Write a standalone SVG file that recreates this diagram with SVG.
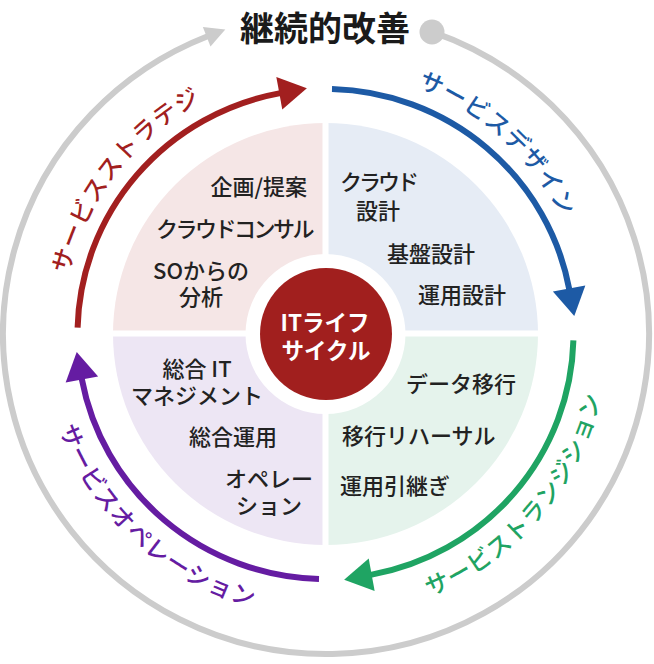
<svg xmlns="http://www.w3.org/2000/svg" width="654" height="664" viewBox="0 0 654 664">
  <style>
    text { font-family: "Noto Sans CJK JP", "Noto Sans", sans-serif; }
    .title { font-size: 34px; font-weight: 700; fill: #1a1a1a; }
    .item { font-size: 22px; font-weight: 500; fill: #222222; }
    .center { font-size: 22.5px; font-weight: 700; fill: #ffffff; }
    .lbl { font-size: 24px; font-weight: 500; letter-spacing: 1px; }
    .arc { fill: none; stroke-width: 6; }
  </style>
  <defs>
    <marker id="mRed" markerUnits="userSpaceOnUse" markerWidth="30" markerHeight="34" refX="1" refY="16.5" orient="auto" overflow="visible"><path d="M0,0 L28,16.5 L0,33 Z" fill="#a21f1f"/></marker>
    <marker id="mBlue" markerUnits="userSpaceOnUse" markerWidth="30" markerHeight="34" refX="1" refY="16.5" orient="auto" overflow="visible"><path d="M0,0 L28,16.5 L0,33 Z" fill="#1d5aa5"/></marker>
    <marker id="mGreen" markerUnits="userSpaceOnUse" markerWidth="30" markerHeight="34" refX="1" refY="16.5" orient="auto" overflow="visible"><path d="M0,0 L28,16.5 L0,33 Z" fill="#1fa463"/></marker>
    <marker id="mPurple" markerUnits="userSpaceOnUse" markerWidth="30" markerHeight="34" refX="1" refY="16.5" orient="auto" overflow="visible"><path d="M0,0 L28,16.5 L0,33 Z" fill="#651ca2"/></marker>
    <marker id="mGray" markerUnits="userSpaceOnUse" markerWidth="22" markerHeight="22" refX="1" refY="10.5" orient="auto" overflow="visible"><path d="M0,0 L20,10.5 L0,21 Z" fill="#cccccc"/></marker>
    <path id="pRed" d="M81.9,434.4 A263.5,263.5 0 0 1 360.4,72.8"/>
    <path id="pBlue" d="M244.5,83.3 A263.5,263.5 0 0 1 583.1,389.2"/>
    <path id="pGreen" d="M274.3,611.8 A282.5,282.5 0 0 0 591.7,239.5"/>
    <path id="pPurple" d="M49.9,271.9 A282.5,282.5 0 0 0 409.5,603.7"/>
  </defs>

  <rect width="654" height="664" fill="#ffffff"/>

  <g id="connectors">
    <path class="arc" d="M432.2,31.8 A323,320 0 1 1 207.6,36.3" stroke="#cccccc" stroke-width="6.5" marker-end="url(#mGray)"/>
    <circle cx="432" cy="32" r="12.5" fill="#cccccc"/>
    <path class="arc" d="M77.6,327.6 A248,245 0 0 1 280.3,93.1" stroke="#a21f1f" marker-end="url(#mRed)"/>
    <path class="arc" d="M332.0,89.1 A248,245 0 0 1 569.3,289.4" stroke="#1d5aa5" marker-end="url(#mBlue)"/>
    <path class="arc" d="M573.4,340.4 A248,245 0 0 1 370.7,574.9" stroke="#1fa463" marker-end="url(#mGreen)"/>
    <path class="arc" d="M319.0,578.9 A248,245 0 0 1 81.7,378.6" stroke="#651ca2" marker-end="url(#mPurple)"/>
  </g>

  <g id="title">
    <text class="title" x="325" y="41" text-anchor="middle">継続的改善</text>
  </g>

  <g id="label-strategy">
    <text class="lbl" fill="#a21f1f"><textPath href="#pRed" startOffset="50%" text-anchor="middle">サービスストラテジ</textPath></text>
  </g>
  <g id="label-design">
    <text class="lbl" fill="#1d5aa5"><textPath href="#pBlue" startOffset="50%" text-anchor="middle">サービスデザイン</textPath></text>
  </g>
  <g id="label-transition">
    <text class="lbl" fill="#1fa463"><textPath href="#pGreen" startOffset="50%" text-anchor="middle">サービストランジション</textPath></text>
  </g>
  <g id="label-operation">
    <text class="lbl" fill="#651ca2"><textPath href="#pPurple" startOffset="50%" text-anchor="middle">サービスオペレーション</textPath></text>
  </g>

  <g id="quadrant-strategy">
    <path d="M325.5,334 L113,334 A212.5,211 0 0 1 325.5,123 Z" fill="#f5e6e6"/>
    <text class="item" x="307" y="195" text-anchor="end">企画/提案</text>
    <text class="item" x="312" y="237" text-anchor="end" style="letter-spacing:-2.5px">クラウドコンサル</text>
    <text class="item" x="201" y="279" text-anchor="middle">SOからの</text>
    <text class="item" x="201" y="305" text-anchor="middle">分析</text>
  </g>
  <g id="quadrant-design">
    <path d="M325.5,334 L325.5,123 A212.5,211 0 0 1 538,334 Z" fill="#e6ecf5"/>
    <text class="item" x="378" y="190" text-anchor="middle" style="letter-spacing:-3px">クラウド</text>
    <text class="item" x="378" y="218.5" text-anchor="middle">設計</text>
    <text class="item" x="387" y="261.5">基盤設計</text>
    <text class="item" x="418" y="303">運用設計</text>
  </g>
  <g id="quadrant-transition">
    <path d="M325.5,334 L538,334 A212.5,211 0 0 1 325.5,545 Z" fill="#e5f3ec"/>
    <text class="item" x="406" y="391.5">データ移行</text>
    <text class="item" x="342" y="443.5">移行リハーサル</text>
    <text class="item" x="340" y="493.5">運用引継ぎ</text>
  </g>
  <g id="quadrant-operation">
    <path d="M325.5,334 L325.5,545 A212.5,211 0 0 1 113,334 Z" fill="#ede6f4"/>
    <text class="item" x="197" y="376.5" text-anchor="middle">総合 IT</text>
    <text class="item" x="197" y="404" text-anchor="middle">マネジメント</text>
    <text class="item" x="189" y="445">総合運用</text>
    <text class="item" x="269" y="487" text-anchor="middle">オペレー</text>
    <text class="item" x="269" y="513.5" text-anchor="middle">ション</text>
  </g>

  <g id="dividers">
    <rect x="322.5" y="118" width="6" height="432" fill="#ffffff"/>
    <rect x="108" y="330.5" width="436" height="6" fill="#ffffff"/>
    <circle cx="325.5" cy="334" r="80" fill="#ffffff"/>
  </g>

  <g id="center">
    <circle cx="326" cy="334" r="66" fill="#a11f1e"/>
    <text class="center" x="325" y="331" text-anchor="middle">ITライフ</text>
    <text class="center" x="326" y="359" text-anchor="middle">サイクル</text>
  </g>
</svg>
